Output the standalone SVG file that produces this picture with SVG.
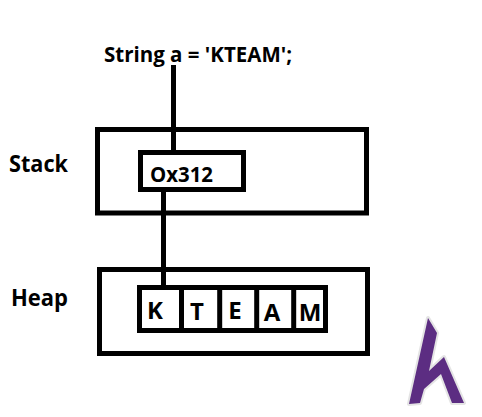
<svg xmlns="http://www.w3.org/2000/svg" width="482" height="417" viewBox="0 0 482 417">
<style>
.box{fill:#fff;stroke:#000;stroke-width:5}
.ln{fill:none;stroke:#000;stroke-width:5}
text{font-family:"Open Sans","Noto Sans",sans-serif;font-weight:700;fill:#000}
.t{font-size:23px}
.l{font-size:24px;text-anchor:middle}
</style>
<rect width="482" height="417" fill="#fff"/>
<g id="stack"><rect class="box" x="97.5" y="129.5" width="269" height="83.5"/><text class="t" x="9" y="172" textLength="59" lengthAdjust="spacingAndGlyphs">Stack</text></g>
<g id="heap"><rect class="box" x="99.5" y="269.5" width="268" height="84"/><text class="t" x="11" y="306" textLength="57" lengthAdjust="spacingAndGlyphs">Heap</text></g>
<g id="code"><text x="104" y="62" font-size="21" textLength="188" lengthAdjust="spacingAndGlyphs">String a = 'KTEAM';</text></g>
<g id="connectors">
<line class="ln" x1="173.5" y1="65" x2="173.5" y2="152"/>
<line class="ln" x1="163.5" y1="190" x2="163.5" y2="287"/>
</g>
<g id="pointer"><rect class="box" x="140.5" y="152.5" width="103" height="37"/><text x="150" y="182" font-size="21" textLength="63" lengthAdjust="spacingAndGlyphs">Ox312</text></g>
<g id="chars">
<rect class="box" x="139.5" y="287.5" width="186" height="43"/>
<path class="ln" d="M181.5 287V331M219.7 287V331M256.7 287V331M293.7 287V331"/>
<text class="l" x="155" y="319">K</text>
<text class="l" x="197" y="320">T</text>
<text class="l" x="235" y="319">E</text>
<text class="l" x="272" y="321">A</text>
<text class="l" x="310" y="321">M</text>
</g>
<g id="logo">
<path d="M428 318L437 333L429 371L444 357L464 403L452 403L441 374L424 389L420 403L409 404Z" fill="#5c2d82" stroke="#e4e4e4" stroke-width="4" stroke-linejoin="round" paint-order="stroke"/>
</g>
</svg>
